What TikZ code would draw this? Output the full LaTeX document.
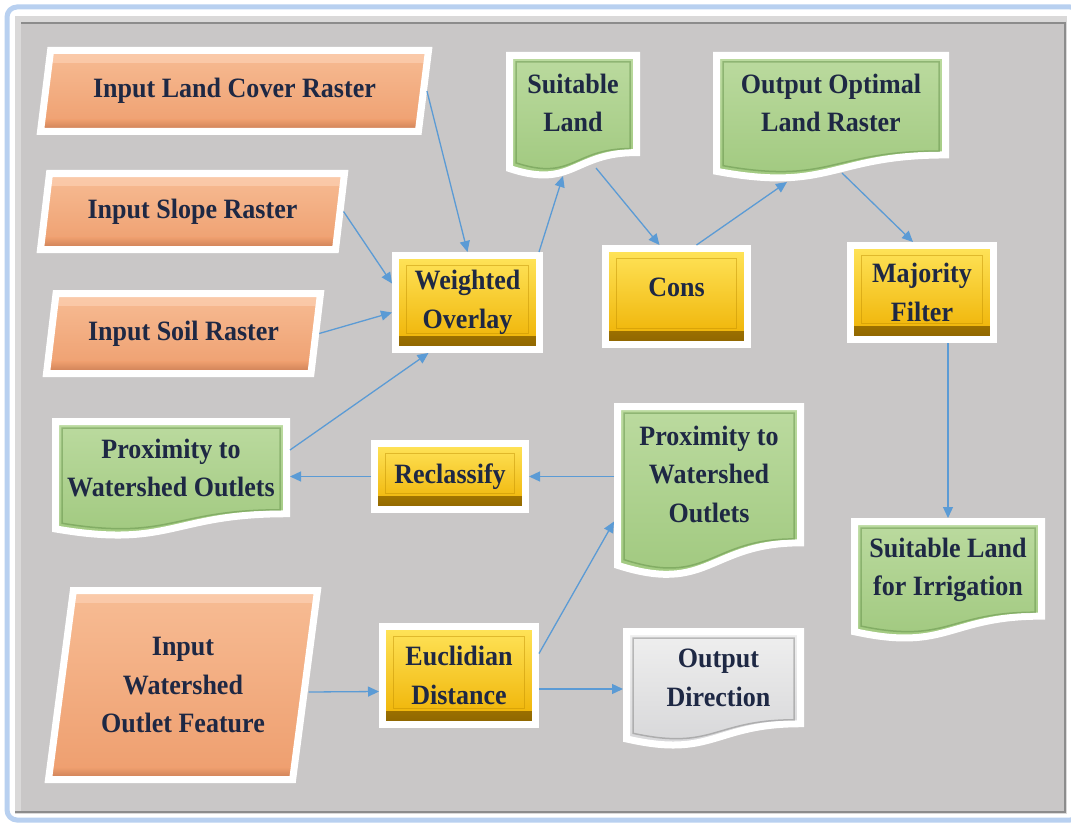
\documentclass[tikz,border=0pt]{standalone}
\usepackage{fontspec}
\setmainfont{Liberation Serif}
\newfontfamily\bxfam[FakeStretch=0.93]{Liberation Serif}
\usetikzlibrary{shapes.geometric,arrows.meta,shadows,calc}
\definecolor{panel}{RGB}{201,199,199}
\definecolor{panellight}{RGB}{218,217,217}
\definecolor{panelline}{RGB}{140,140,140}
\definecolor{frameblue}{RGB}{184,208,240}
\definecolor{arrowblue}{RGB}{91,155,213}
\definecolor{txt}{RGB}{30,40,68}
\definecolor{ortop}{RGB}{247,188,148}
\definecolor{orbot}{RGB}{238,158,110}
\definecolor{orlight}{RGB}{250,202,170}
\definecolor{ordark}{RGB}{196,120,80}
\definecolor{yetop}{RGB}{255,228,90}
\definecolor{yebot}{RGB}{238,176,0}
\definecolor{yedark}{RGB}{140,100,0}
\definecolor{yeline}{RGB}{190,140,0}
\definecolor{grtop}{RGB}{188,219,160}
\definecolor{grbot}{RGB}{158,199,124}
\definecolor{grdark}{RGB}{92,138,66}
\definecolor{gytop}{RGB}{240,240,240}
\definecolor{gybot}{RGB}{212,212,214}
\definecolor{gydark}{RGB}{120,120,120}
\newcommand\bxfont{\bxfam\bfseries\fontsize{28}{38.5}\selectfont}
\newcommand\docpath[1]{let \p1=(path picture bounding box.north west), \p2=(path picture bounding box.south east), \n1={\y1-\y2-2*(#1)}, \n2={(\x1+\x2)/2} in (\x1+#1,\y1-#1) -- (\x2-#1,\y1-#1) -- (\x2-#1,{\y1-#1-0.802*\n1}) .. controls (\n2,{\y1-#1-0.802*\n1}) and (\n2,{\y1-#1-1.107*\n1}) .. (\x1+#1,{\y1-#1-0.934*\n1}) -- cycle}
\tikzset{
  lbl/.style={font=\bxfont, text=txt, align=center},
  para/.style 2 args={trapezium, trapezium left angle=#1, trapezium right angle=#2,
    trapezium stretches body=true, draw=white, line width=7pt, inner sep=2pt,
    top color=ortop, bottom color=orbot, lbl,
    drop shadow={shadow xshift=1.5pt, shadow yshift=-2pt, opacity=0.25},
    path picture={
      \shade[top color=orlight, bottom color=ortop] ([yshift=1pt]path picture bounding box.north west) rectangle ([yshift=-12pt]path picture bounding box.north east);
      \shade[top color=orbot, bottom color=ordark] ([yshift=-1pt]path picture bounding box.south west) rectangle ([yshift=12pt]path picture bounding box.south east);
    }},
  proc/.style={rectangle, draw=white, line width=7pt, top color=yetop, bottom color=yebot, lbl,
    drop shadow={shadow xshift=1.5pt, shadow yshift=-2pt, opacity=0.25},
    path picture={
      \shade[top color=yebot, bottom color=yedark] ([yshift=-1pt]path picture bounding box.south west) rectangle ([yshift=13pt]path picture bounding box.south east);
      \draw[yeline, line width=0.8pt, opacity=0.45] ([shift={(11pt,-10pt)}]path picture bounding box.north west) rectangle ([shift={(-11pt,16pt)}]path picture bounding box.south east);
    }},
  doc/.style n args={3}{rectangle, draw=none, inner sep=0pt, outer sep=0pt,
    path picture={
      \path[draw=white, line width=7pt, top color=#1, bottom color=#2] \docpath{3.5pt};
      \path[draw=#3, line width=1.5pt, opacity=0.45] \docpath{10pt};
    }},
  arr/.style={draw=arrowblue, line width=1.3pt, -{Triangle[length=11pt,width=10pt]}}
}
\begin{document}
\begin{tikzpicture}[x=1pt,y=-1pt]
\useasboundingbox (0,0) rectangle (1071,824);
\clip (0,0) rectangle (1071,824);
\fill[white] (0,0) rectangle (1071,824);
\draw[frameblue, line width=5pt, rounded corners=10pt] (7,7) rectangle (1080,820);
\fill[panellight] (15,16) rectangle (1067,814);
\fill[panel] (21,22) rectangle (1065,811);
\draw[panelline, line width=2.5pt] (21,23) -- (1065,23);
\draw[panelline, line width=2pt] (1065,22) -- (1065,812);
\draw[panelline, line width=2.5pt] (15,812) -- (1066,812);

% inputs
\node[para={71}{109}, minimum width=388pt, minimum height=81pt] (lc) at (234.5,91) {Input Land Cover Raster};
\node[para={73}{107}, minimum width=304pt, minimum height=76pt] (slp) at (192.5,211.5) {Input Slope Raster};
\node[para={72}{108}, minimum width=274pt, minimum height=80pt] (so) at (183.5,333.5) {Input Soil Raster};
\node[para={76}{104}, minimum width=269pt, minimum height=189pt] (iw) at (183,685) {Input\\Watershed\\Outlet Feature};

% processes
\node[proc, minimum width=144pt, minimum height=94pt] (wo) at (467.5,302.5) {Weighted\\Overlay};
\node[proc, minimum width=142pt, minimum height=96pt, text depth=18pt] (cons) at (676.5,296.5) {Cons};
\node[proc, minimum width=143pt, minimum height=94pt] (mf) at (922,292.5) {Majority\\Filter};
\node[proc, minimum width=151pt, minimum height=66pt] (rc) at (450,476.5) {Reclassify};
\node[proc, minimum width=153pt, minimum height=98pt] (eu) at (459,675.5) {Euclidian\\Distance};

% outputs
\node[doc={grtop}{grbot}{grdark}, minimum width=134pt, minimum height=128pt,
  label={[lbl,yshift=13pt]center:{Suitable\\Land}}] (sul) at (573,116) {};
\node[doc={grtop}{grbot}{grdark}, minimum width=236pt, minimum height=131pt,
  label={[lbl,yshift=14.5pt]center:{Output Optimal\\Land Raster}}] (oo) at (831,117.5) {};
\node[doc={grtop}{grbot}{grdark}, minimum width=238pt, minimum height=122pt,
  label={[lbl,yshift=11pt]center:{Proximity to\\Watershed Outlets}}] (pl) at (171,479) {};
\node[doc={grtop}{grbot}{grdark}, minimum width=190pt, minimum height=177pt,
  label={[lbl,yshift=17.5pt]center:{Proximity to\\Watershed\\Outlets}}] (pr) at (709,491.5) {};
\node[doc={grtop}{grbot}{grdark}, minimum width=194pt, minimum height=125pt,
  label={[lbl,yshift=10.5pt]center:{Suitable Land\\for Irrigation}}] (sli) at (948,580.5) {};
\node[doc={gytop}{gybot}{gydark}, minimum width=181pt, minimum height=122pt,
  label={[lbl,yshift=11pt,xshift=5pt]center:{Output\\Direction}}] (od) at (713.5,689) {};

% connectors
\draw[arr] (lc.east) -- (wo.north);
\draw[arr] (slp.east) -- ([yshift=19pt]wo.west);
\draw[arr] (so.east) -- ([yshift=-10pt]wo.west);
\draw[arr] ([yshift=29pt]pl.east) -- ([xshift=-39pt]wo.south);
\draw[arr] ([xshift=-4pt]wo.north east) -- ([xshift=-10pt,yshift=4pt]sul.south);
\draw[arr] ([xshift=23pt,yshift=12pt]sul.south) -- ([xshift=-17pt]cons.north);
\draw[arr] ([xshift=20pt]cons.north) -- ([xshift=-44pt,yshift=1pt]oo.south);
\draw[arr] ([xshift=11pt,yshift=10pt]oo.south) -- ([xshift=-9pt]mf.north);
\draw[arr] (sli.north |- mf.south) -- (sli.north);
\draw[arr] (pr.west |- rc.east) -- (rc.east);
\draw[arr] (rc.west) -- (pl.east |- rc.west);
\draw[arr] ([yshift=-7pt]iw.east) -- ([yshift=-16pt]eu.west);
\draw[arr] ([yshift=22pt]eu.east) -- ([yshift=-30pt]pr.west);
\draw[arr] (eu.east |- od.west) -- (od.west);
\end{tikzpicture}
\end{document}
